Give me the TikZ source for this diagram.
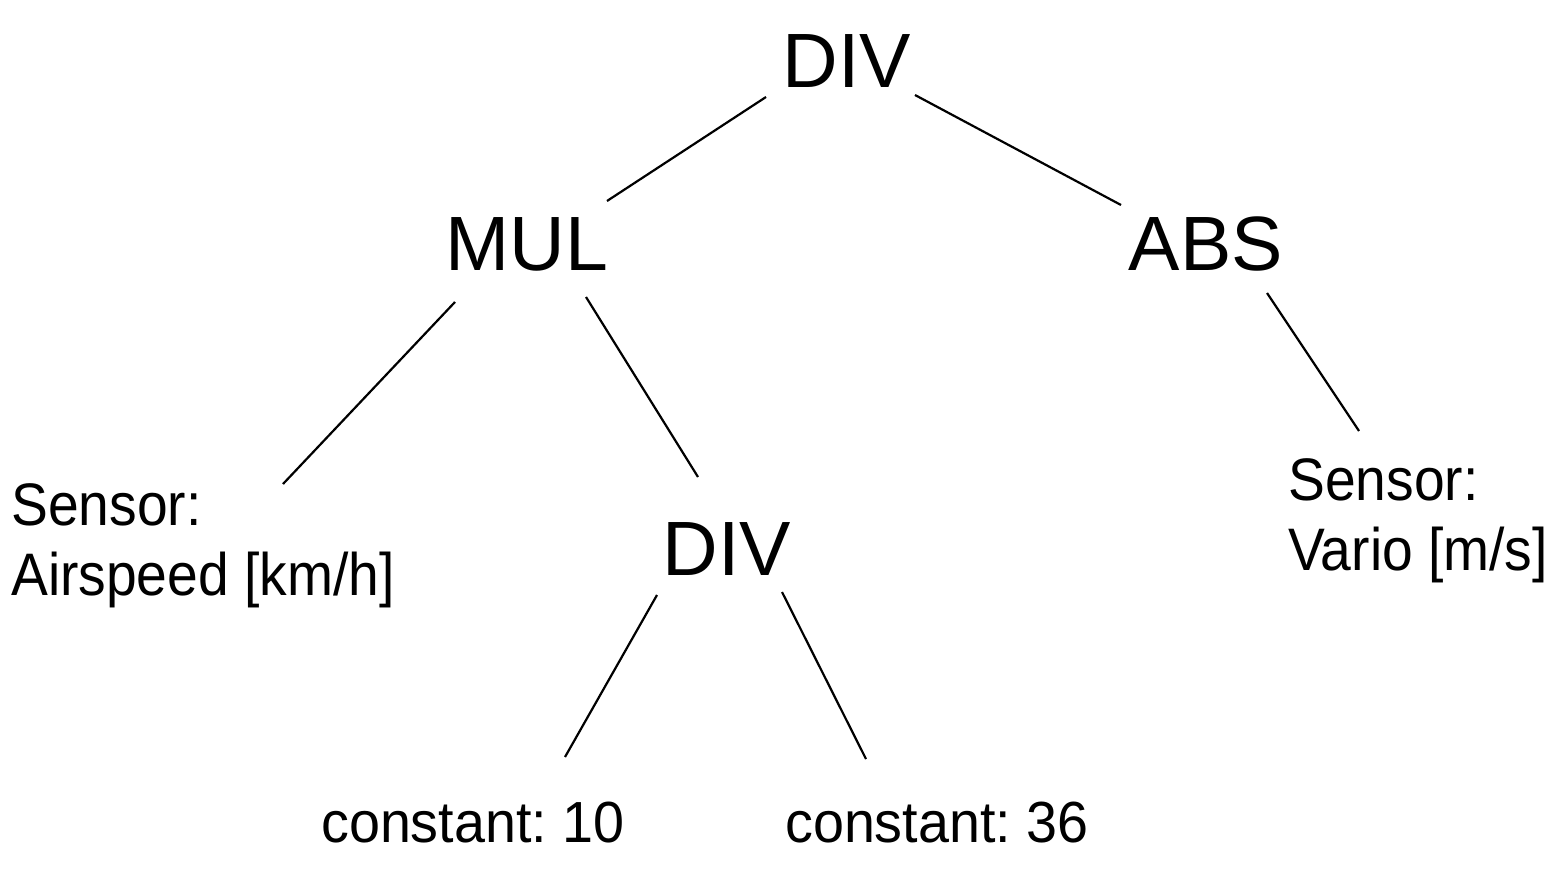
\documentclass[tikz,border=0pt]{standalone}
\usepackage{fontspec}
\setmainfont{Liberation Sans}
\newfontfamily\condfont[FakeStretch=0.92]{Liberation Sans}
\newfontfamily\constfont[FakeStretch=0.96]{Liberation Sans}
\frenchspacing
\begin{document}
\begin{tikzpicture}[x=1pt,y=-1pt,
  opnode/.style={inner sep=0pt, anchor=base, font=\fontsize{77}{90}\selectfont},
  leafnode/.style={inner sep=0pt, anchor=north west, align=left, font=\condfont\fontsize{60}{70}\selectfont},
  constnode/.style={inner sep=0pt, anchor=base west, font=\constfont\fontsize{58}{66}\selectfont},
  edge/.style={line width=2.2pt, black}]
\useasboundingbox (0,0) rectangle (1560,891);
\fill[white] (0,0) rectangle (1560,891);

\node[opnode] (div1) at (847,88) {DIV};
\node[opnode] (mul) at (527,270) {MUL};
\node[opnode] (abs) at (1206,270) {ABS};
\node[opnode] (div2) at (727,575) {DIV};
\node[leafnode] (air) at (11,483) {Sensor:\\Airspeed [km/h]};
\node[leafnode] (vario) at (1288,458) {Sensor:\\Vario [m/s]};
\node[constnode] (c10) at (321,842) {constant: 10};
\node[constnode] (c36) at (785,842) {constant: 36};

\coordinate (d1a) at (766,97);   \coordinate (mula) at (607,201);
\coordinate (d1b) at (915,95);   \coordinate (absa) at (1121,205);
\coordinate (mulb) at (455,302); \coordinate (aira) at (283,484);
\coordinate (mulc) at (586,297); \coordinate (d2a) at (698,477);
\coordinate (absb) at (1267,293);\coordinate (varioa) at (1359,431);
\coordinate (d2b) at (657,595);  \coordinate (c10a) at (565,757);
\coordinate (d2c) at (782,592);  \coordinate (c36a) at (866,759);

\draw[edge] (d1a) -- (mula);
\draw[edge] (d1b) -- (absa);
\draw[edge] (mulb) -- (aira);
\draw[edge] (mulc) -- (d2a);
\draw[edge] (absb) -- (varioa);
\draw[edge] (d2b) -- (c10a);
\draw[edge] (d2c) -- (c36a);
\end{tikzpicture}
\end{document}
